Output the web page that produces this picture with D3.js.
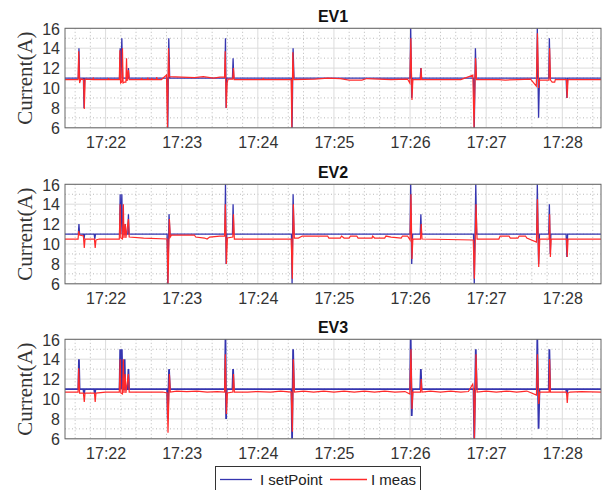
<!DOCTYPE html>
<html>
<head>
<meta charset="utf-8">
<script src="https://cdn.jsdelivr.net/npm/d3@7"></script>
<style>
  body { margin: 0; background: #fff; }
  .tick text { font-family: "Liberation Sans", Arial, sans-serif; font-size: 16px; fill: #333; }
</style>
</head>
<body>
<div id="chart"></div>
<script>
// time is seconds after 17:21:00
var panelNames = ["EV1", "EV2", "EV3"];
var yTicks = [6, 8, 10, 12, 14, 16];
var timeRange = [28, 450.5];
var legendNames = ["I setPoint", "I meas"];

var ev1Set = [[28,11],[38.5,11],[39,14],[39.5,11],[42.5,11],[43,8],[43.5,11],
  [71,11],[71.5,14],[72,11],[72.8,15],[73.4,11],[77.5,11],[78,12],[78.5,11],
  [108.5,11],[109,6],[109.8,15],[110.5,11],
  [154,11],[154.5,15],[155,8],[155.5,11],[160,11],[160.5,13],[161,11],
  [206.5,11],[207,6],[207.8,14],[208.5,11],
  [300,11],[300.5,16],[301.3,9],[302,11],[308,11],[308.5,12],[309,11],
  [350,11],[350.6,6],[351.5,14],[352.2,11],
  [399.8,11],[400.3,16],[401.3,7],[402,11],[409.3,11],[409.8,15],[410.4,11],
  [423,11],[423.6,9],[424.2,11],[450.5,11]];
var ev1Meas = [[28,10.85],[38.3,10.85],[38.8,13.7],[39.5,10.5],[40.5,10.9],[42.6,10.85],[43.2,7.9],[43.9,10.9],
  [50,10.85],[50.3,11.05],[50.6,10.85],[62,10.85],[62.3,11.0],[62.6,10.85],
  [70.8,10.85],[71.3,13.8],[71.8,10.5],[72.8,10.6],[73.3,14],[73.8,10.5],[75,10.6],
  [76,10.6],[76.5,13],[77,10.7],[78,11.8],[78.6,10.85],
  [88,10.85],[88.3,11.0],[88.6,10.85],[93,10.85],[93.3,11.05],[93.6,10.85],[96,10.85],[96.3,11.0],[96.6,10.85],
  [100,10.85],[100.3,11.1],[100.6,10.85],[104,10.85],[108,11.3],[108.8,6],[109.6,14],[110.3,11.15],
  [120,11.1],[130,11.05],[137,11.15],[145,11.0],[150,11.1],[153.8,11.1],[154.3,13.7],[155.1,8],[155.8,10.5],
  [156.5,10.9],[160.2,10.9],[160.8,12],[161.4,10.85],[180,10.85],[184,10.85],[184.3,11.0],[184.6,10.85],
  [206.3,10.85],[206.8,6],[207.6,13.6],[208.4,10.85],[225,10.9],[235,11.0],[245,10.95],[252,10.8],[262,10.8],
  [266,10.95],[275,10.9],[285,10.85],[298,10.9],
  [299.8,10.5],[300.6,15],[301.5,8.8],[302.2,10.85],[308.2,10.85],[308.7,12],[309.2,10.85],
  [340,10.85],[349.5,11.3],[350.4,6],[351.6,13],[352.4,10.85],[370,10.85],[375,10.8],[385,10.85],[395,10.9],
  [399.5,10.2],[400.4,15.5],[401.3,10],[402,10.8],[405,10.8],[409.5,10.8],[410,14],[410.7,10.8],
  [412,10.6],[414,10.6],[414.5,10.85],[423.3,10.85],[423.8,9],[424.5,10.85],[450.5,10.85]];

var ev2Set = [[28,11],[38.5,11],[39,12],[39.5,11],[42.5,11],[43,10.5],[43.5,11],[51,11],[51.5,10.5],[52,11],
  [71,11],[71.5,15],[72,11],[72.8,15],[73.4,11],[75,11],[75.5,12],[76,11],[77.5,11],[78,13],[78.5,11],
  [108.5,11],[109,6],[110,13],[110.7,11],
  [154,11],[154.5,16],[155,8],[155.5,11],[160,11],[160.5,14],[161,11],
  [206.5,11],[207,6],[207.8,15],[208.5,11],
  [300,11],[300.5,16],[301.3,8],[302,11],[308,11],[308.5,13],[309,11],
  [350,11],[350.6,6],[351.8,16],[352.5,11],
  [399.8,11],[400.3,16],[401.3,8],[402,11],[409.3,11],[409.8,14],[410.5,9],[411,11],
  [423,11],[423.6,8.7],[424.2,11],[450.5,11]];
var ev2Meas = [[28,10.5],[38.3,10.5],[38.8,11.3],[39.5,10.9],[42.5,10.8],[43.2,9.6],[43.8,10.5],
  [51.2,10.5],[51.8,9.6],[52.4,10.4],[55,10.5],
  [70.8,10.5],[71.5,14],[72,10.6],[73.3,10.5],[74,14],[74.5,10.6],[75.5,12],[76,10.6],
  [78,12.5],[78.6,10.7],[90,10.6],[108.5,10.5],[109.2,6],[110.3,12.5],[111,10.7],[112,10.9],
  [130,10.9],[131,10.7],[138,10.6],[140,10.5],[142,10.7],[150,10.8],[153.8,10.8],[154.4,14],[155.2,8],
  [156,10.6],[160.3,10.7],[160.8,13],[161.5,10.5],[206.3,10.5],[207.2,6.5],[208,14],[208.8,10.6],
  [212,10.6],[215,10.8],[235,10.8],[236,10.6],[245,10.6],[246,10.8],[248,10.6],[252,10.6],[253,10.8],
  [258,10.8],[259,10.6],[270,10.6],[270.5,10.8],[272,10.6],[280,10.6],[281,10.8],[285,10.7],[293,10.6],
  [294,10.8],[298,10.8],
  [300,10.4],[300.7,15],[301.5,8.5],[302.2,10.5],[308.2,10.5],[308.8,12],[309.4,10.5],
  [349.8,10.4],[350.7,6.5],[352,14],[352.8,10.5],[370,10.5],[371,10.8],[378,10.8],[379,10.6],
  [385,10.6],[386,10.8],[391,10.8],[392,10.6],
  [399.6,10.2],[400.4,14.5],[401.4,7.7],[402.2,10.5],[409.6,10.5],[410,13],[410.6,8.7],[411.2,10.5],
  [423.3,10.5],[423.9,8.7],[424.5,10.5],[450.5,10.5]];

var ev3Set = [[28,11],[38.5,11],[39,14],[39.5,11],[42.5,11],[43,10.5],[43.5,11],[51,11],[51.5,10.5],[52,11],
  [71,11],[71.5,15],[72,11],[72.8,15],[73.4,11],[74.5,11],[75,14],[75.5,11],[77.5,11],[78,13],[78.5,11],
  [108.5,11],[109,8],[110,13],[110.7,11],
  [154,11],[154.5,16],[155,8],[155.5,11],[160,11],[160.5,13],[161,11],
  [206.5,11],[207,6],[207.8,15],[208.5,11],
  [300,11],[300.5,16],[301.3,8.3],[302,11],[308,11],[308.5,13],[309,11],
  [350,11],[350.6,6],[351.8,15],[352.5,11],
  [399.8,11],[400.3,16],[401.3,7],[402,11],[409.3,11],[409.8,15],[410.4,11],
  [423,11],[423.6,10.5],[424.2,11],[450.5,11]];
var ev3Meas = [[28,10.7],[38.3,10.7],[38.8,13.1],[39.5,10.6],[42.5,10.6],[43.2,9.7],[43.8,10.6],
  [51.2,10.6],[51.8,9.7],[52.4,10.6],[60,10.7],
  [70.8,10.7],[71.5,14],[72,10.6],[73.3,10.5],[74,14],[74.5,10.6],[75.5,12.5],[76,10.6],
  [78,12.5],[78.6,10.7],[90,10.7],[105,10.7],[108.5,10.6],[109.2,6.6],[110.3,12.5],[111,10.7],
  [116,10.8],[124,10.75],[132,10.8],[140,10.7],[148,10.75],[153.8,10.7],[154.4,14.5],[155.2,8.5],
  [156,10.6],[160.3,10.7],[160.8,12.5],[161.5,10.7],[172,10.7],[180,10.75],[190,10.7],[198,10.8],
  [206.3,10.7],[207.2,6.7],[208,14],[208.8,10.7],[216,10.8],[224,10.7],[232,10.8],[240,10.7],[248,10.8],
  [256,10.7],[264,10.8],[272,10.7],[280,10.8],[288,10.7],[296,10.75],
  [299.8,10.5],[300.7,15],[301.5,9],[302.2,10.7],[308.2,10.7],[308.8,12],[309.4,10.7],
  [316,10.8],[324,10.7],[332,10.8],[340,10.7],[346,10.75],
  [349.4,11.5],[350.2,10.7],[350.7,6],[352,14.5],[352.8,10.7],[360,10.8],[368,10.7],[376,10.8],
  [384,10.7],[392,10.8],
  [399.6,10.4],[400.4,14.5],[401.4,9.5],[402.2,10.7],[409.6,10.7],[410,14],[410.6,10.7],
  [423.3,10.7],[423.9,9.6],[424.5,10.6],[426,10.7],[435,10.75],[450.5,10.7]];

var setSeries = [ev1Set, ev2Set, ev3Set];
var measSeries = [ev1Meas, ev2Meas, ev3Meas];

var svgWidth = 605, svgHeight = 490;
var plotLeft = 65, plotRight = 601;
var panelTops = [28.3, 184.3, 339.3];
var panelHeight = 99.5;
var blue = "#3535b0", red = "#ff2a2a";

var svg = d3.select("#chart").append("svg")
  .attr("width", svgWidth)
  .attr("height", svgHeight)
  .style("font-family", "'Liberation Sans', Arial, sans-serif");

var base = new Date(2021, 0, 1, 17, 21, 0).getTime();
function toDate(s) { return new Date(base + s * 1000); }

var x = d3.scaleTime()
  .domain(timeRange.map(toDate))
  .range([plotLeft, plotRight]);

var minorTimes = d3.timeSecond.every(12).range(toDate(timeRange[0]), toDate(timeRange[1]))
  .filter(function(d) { return d.getSeconds() !== 0; });
var majorTimes = d3.timeMinute.every(1).range(toDate(timeRange[0]), toDate(timeRange[1]));
var minorY = [7, 9, 11, 13, 15];

panelNames.forEach(function(name, i) {
  var top = panelTops[i];
  var y = d3.scaleLinear().domain([6, 16]).range([top + panelHeight, top]);
  var g = svg.append("g");

  // minor grid
  g.selectAll(".mx").data(minorTimes).enter().append("line")
    .attr("x1", d => x(d)).attr("x2", d => x(d))
    .attr("y1", top).attr("y2", top + panelHeight)
    .attr("stroke", "#a8a8a8").attr("stroke-width", 0.8).attr("stroke-dasharray", "1,2.5");
  g.selectAll(".my").data(minorY).enter().append("line")
    .attr("x1", plotLeft).attr("x2", plotRight)
    .attr("y1", d => y(d)).attr("y2", d => y(d))
    .attr("stroke", "#a8a8a8").attr("stroke-width", 0.8).attr("stroke-dasharray", "1,2.5");
  // major grid
  g.selectAll(".gx").data(majorTimes).enter().append("line")
    .attr("x1", d => x(d)).attr("x2", d => x(d))
    .attr("y1", top).attr("y2", top + panelHeight)
    .attr("stroke", "#dcdcdc").attr("stroke-width", 1);
  g.selectAll(".gy").data(yTicks).enter().append("line")
    .attr("x1", plotLeft).attr("x2", plotRight)
    .attr("y1", d => y(d)).attr("y2", d => y(d))
    .attr("stroke", "#dcdcdc").attr("stroke-width", 1);

  var line = d3.line()
    .x(d => x(toDate(d[0])))
    .y(d => y(d[1]));

  g.append("path").datum(setSeries[i])
    .attr("d", line).attr("fill", "none")
    .attr("stroke", blue).attr("stroke-width", i == 2 ? 1.8 : 1.3);
  g.append("path").datum(measSeries[i])
    .attr("d", line).attr("fill", "none")
    .attr("stroke", red).attr("stroke-width", 1.2);

  // frame
  g.append("rect")
    .attr("x", plotLeft).attr("y", top)
    .attr("width", plotRight - plotLeft).attr("height", panelHeight)
    .attr("fill", "none").attr("stroke", "#666").attr("stroke-width", 1);

  var xAxis = d3.axisBottom(x)
    .ticks(d3.timeMinute.every(1))
    .tickFormat(d3.timeFormat("%H:%M"))
    .tickSize(0).tickPadding(9);
  g.append("g")
    .attr("transform", `translate(0, ${top + panelHeight})`)
    .call(xAxis)
    .call(a => a.select(".domain").remove());

  var yAxis = d3.axisLeft(y).tickValues(yTicks).tickSize(0).tickPadding(5);
  g.append("g")
    .attr("transform", `translate(${plotLeft}, 0)`)
    .call(yAxis)
    .call(a => a.select(".domain").remove())
    .call(a => a.selectAll(".tick text").attr("dy", "0.36em"));

  g.append("text")
    .attr("x", (plotLeft + plotRight) / 2)
    .attr("y", top - 6)
    .attr("text-anchor", "middle")
    .attr("font-weight", "bold")
    .attr("font-size", "16px")
    .attr("fill", "#111")
    .text(name);

  g.append("text")
    .attr("transform", `translate(32, ${top + panelHeight / 2}) rotate(-90)`)
    .attr("text-anchor", "middle")
    .attr("font-family", "'Liberation Serif', 'Times New Roman', serif")
    .attr("font-size", "21px")
    .attr("fill", "#333")
    .text("Current(A)");
});

// legend
var legend = svg.append("g");
legend.append("rect")
  .attr("x", 215.5).attr("y", 466.5)
  .attr("width", 205).attr("height", 30)
  .attr("fill", "#fff").attr("stroke", "#333").attr("stroke-width", 1);
var legendItems = [
  { name: legendNames[0], color: blue, x1: 220, x2: 252, tx: 260 },
  { name: legendNames[1], color: red, x1: 330, x2: 367, tx: 371 }
];
legendItems.forEach(function(it) {
  legend.append("line")
    .attr("x1", it.x1).attr("x2", it.x2)
    .attr("y1", 479.5).attr("y2", 479.5)
    .attr("stroke", it.color).attr("stroke-width", 1.3);
  legend.append("text")
    .attr("x", it.tx).attr("y", 485)
    .attr("font-size", "15px").attr("fill", "#222")
    .text(it.name);
});
</script>
</body>
</html>
